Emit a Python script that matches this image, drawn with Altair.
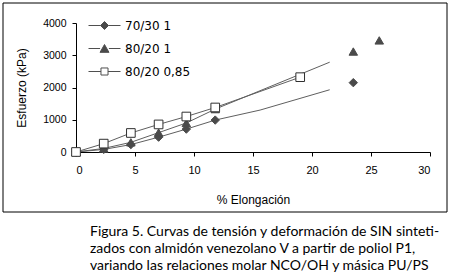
import altair as alt
import pandas as pd

# ---- data ----
series = ["70/30 1", "80/20 1", "80/20 0,85"]

# points joined by each series' line
line_x_7030 = [0, 2.35, 4.65, 7.0, 9.35, 11.8, 15.6, 21.5]
line_y_7030 = [0, 80, 230, 460, 710, 990, 1300, 1930]
line_x_8020 = [0, 2.35, 4.65, 7.0, 9.35, 11.8, 21.5]
line_y_8020 = [0, 110, 300, 600, 900, 1330, 2785]
line_x_8085 = [0, 2.35, 4.65, 7.0, 9.35, 11.8, 19.0]
line_y_8085 = [0, 260, 590, 855, 1100, 1380, 2320]

# measured points drawn with markers
mark_x_7030 = [0, 2.35, 4.65, 7.0, 9.35, 11.8, 23.5]
mark_y_7030 = [0, 80, 230, 460, 710, 990, 2150]
mark_x_8020 = [0, 2.35, 4.65, 7.0, 9.35, 11.8, 23.5, 25.7]
mark_y_8020 = [0, 110, 300, 600, 900, 1330, 3115, 3460]
mark_x_8085 = [0, 2.35, 4.65, 7.0, 9.35, 11.8, 19.0]
mark_y_8085 = [0, 260, 590, 855, 1100, 1380, 2320]

x_ticks = [0, 5, 10, 15, 20, 25, 30]
y_ticks = [0, 1000, 2000, 3000, 4000]

caption = [
    "Figura 5. Curvas de tensión y deformación de SIN sinteti-",
    "zados con almidón venezolano V a partir de poliol P1,",
    "variando las relaciones molar NCO/OH y másica PU/PS",
]

# ---- tables ----
def table(name, xs, ys):
    return pd.DataFrame({"serie": name, "x": xs, "y": ys})

lines = pd.concat([
    table(series[0], line_x_7030, line_y_7030),
    table(series[1], line_x_8020, line_y_8020),
    table(series[2], line_x_8085, line_y_8085),
])
marks = pd.concat([
    table(series[0], mark_x_7030, mark_y_7030),
    table(series[1], mark_x_8020, mark_y_8020),
    table(series[2], mark_x_8085, mark_y_8085),
])

AX = "Liberation Sans"
fills = ["#4a4a4a", "#4a4a4a", "#ffffff"]
strokes = ["#4a4a4a", "#4a4a4a", "#303030"]

xaxis = alt.Axis(values=x_ticks, tickCount=7, format="d", title="% Elongación", grid=False,
                 tickSize=4, labelPadding=8, labelFontSize=11, labelOverlap=False,
                 titleX=177, titleY=47, titleBaseline="middle")
yaxis = alt.Axis(values=y_ticks, tickCount=5, format="d", title="Esfuerzo (kPa)", grid=False,
                 tickSize=4, labelPadding=6, labelFontSize=10.5,
                 labelOverlap=False, labelFlush=False,
                 titleX=-55, titleY=64.5, titleAngle=270,
                 titleAlign="center", titleBaseline="middle")
xenc = alt.X("x:Q", scale=alt.Scale(domain=[0, 30], nice=False), axis=xaxis)
yenc = alt.Y("y:Q", scale=alt.Scale(domain=[0, 4000], nice=False), axis=yaxis)

line_layer = alt.Chart(lines).mark_line(color="#5f5f5f", strokeWidth=1).encode(
    x=xenc, y=yenc, detail="serie:N", order="x:Q")

point_layer = alt.Chart(marks).mark_point(filled=True, strokeWidth=1, opacity=1).encode(
    x=xenc, y=yenc,
    shape=alt.Shape("serie:N", scale=alt.Scale(domain=series, range=["diamond", "triangle-up", "square"]), legend=None),
    fill=alt.Fill("serie:N", scale=alt.Scale(domain=series, range=fills), legend=None),
    stroke=alt.Stroke("serie:N", scale=alt.Scale(domain=series, range=strokes), legend=None),
    size=alt.Size("serie:N", scale=alt.Scale(domain=series, range=[70, 75, 49]), legend=None),
)

legend_paths = [
    "M-2,0H-0.5M0.5,0H2M0,-0.5L0.5,0L0,0.5L-0.5,0Z",
    "M-2,0H-0.55M0.55,0H2M0,-0.5L0.56,0.48L-0.56,0.48Z",
    "M-2,0H-0.44M0.44,0H2M-0.44,-0.44H0.44V0.44H-0.44Z",
]
leg = alt.Legend(orient="none", legendX=20, legendY=-6, title=None,
                 symbolSize=256, symbolStrokeWidth=1, symbolOpacity=1,
                 labelFont="DejaVu Sans",
                 labelFontSize=12, labelColor="black", labelOffset=12,
                 rowPadding=8, padding=0)
legend_layer = alt.Chart(marks).transform_filter("false").transform_calculate(
    leyenda="datum.serie").mark_point(filled=True, strokeWidth=1, size=256, opacity=1).encode(
    x=xenc, y=yenc,
    shape=alt.Shape("leyenda:N", scale=alt.Scale(domain=series, range=legend_paths), legend=leg),
    fill=alt.Fill("leyenda:N", scale=alt.Scale(domain=series, range=fills), legend=leg),
    stroke=alt.Stroke("leyenda:N", scale=alt.Scale(domain=series, range=["#4f4f4f", "#4f4f4f", "#4f4f4f"]), legend=leg),
)

frame = alt.Chart(alt.Data(values=[{"k": 1}])).mark_rect(
    filled=False, stroke="black", strokeWidth=1).encode(
    x=alt.value(-73), x2=alt.value(371), y=alt.value(-20), y2=alt.value(189))

chart = alt.layer(frame, line_layer, point_layer, legend_layer).resolve_scale(
    shape="independent", fill="independent", stroke="independent", size="independent"
).properties(
    width=354, height=129,
    background="white",
    padding={"left": 76, "top": 23, "right": 21, "bottom": 122},
    autosize=alt.AutoSizeParams(type="none"),
    title=alt.TitleParams(text=caption, orient="bottom", anchor="start", frame="group",
                          font="Lato", fontSize=14, fontWeight="normal", color="black",
                          lineHeight=17, dx=14, offset=12),
).configure_view(stroke=None).configure_axis(
    domainColor="black", tickColor="black", labelColor="black", titleColor="black",
    labelFont=AX, titleFont=AX, titleFontSize=12, titleFontWeight="normal",
)

chart.save("out.html", embed_options={"renderer": "svg", "actions": False})
